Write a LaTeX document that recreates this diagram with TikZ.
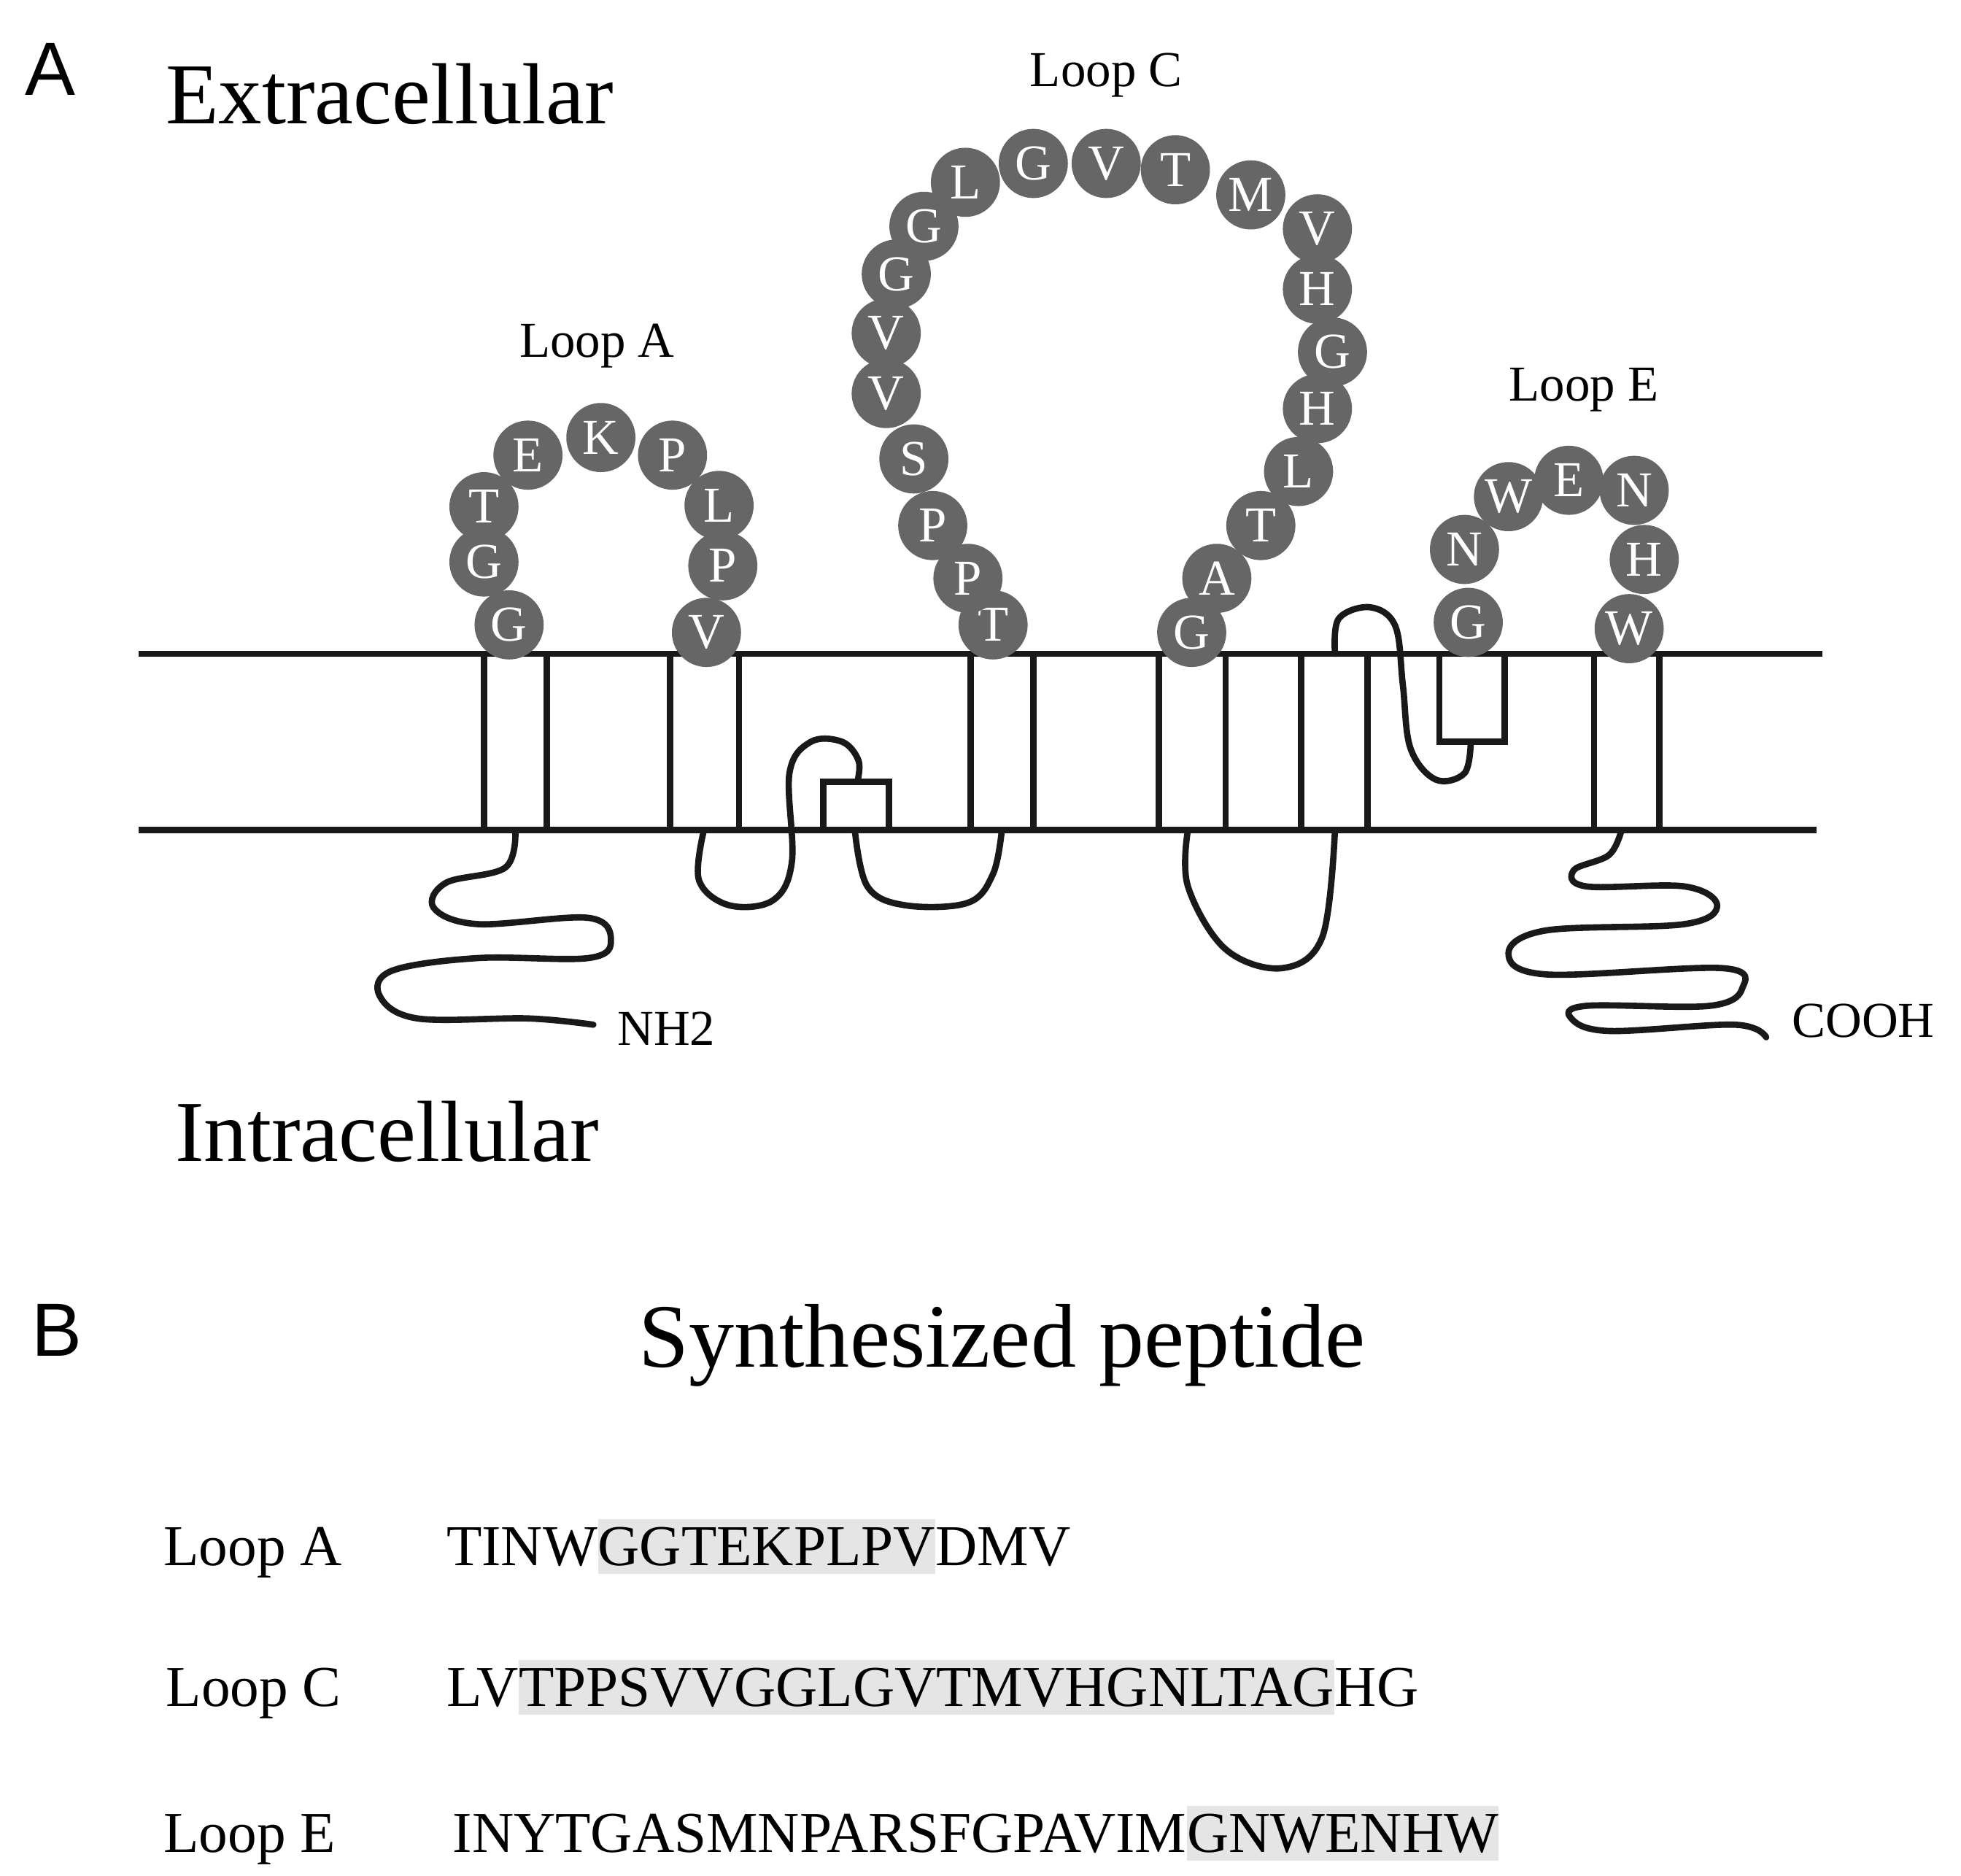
\documentclass[tikz,border=0pt]{standalone}
\usepackage{fontspec}
\setmainfont{Liberation Serif}
\newfontfamily\sansf{Liberation Sans}
\begin{document}
\begin{tikzpicture}[x=1pt,y=-1pt,
  mem/.style={line width=5pt,color=black!90},
  chain/.style={line width=5pt,color=black!90,line cap=round,line join=round},
  res/.style={circle,fill=black!60,minimum size=55pt,inner sep=0pt,text=white,font=\fontsize{40}{40}\selectfont},
  lbl/.style={font=\fontsize{40}{40}\selectfont},
  big/.style={font=\fontsize{69}{69}\selectfont},
  seq/.style={font=\fontsize{46}{46}\selectfont,inner xsep=0pt,inner ysep=6pt,anchor=base west},
  hl/.style={seq,fill=black!10}]
\useasboundingbox (0,0) rectangle (1560,1492);
% membrane
\draw[mem] (110,520) -- (1450,520);
\draw[mem] (110,660) -- (1445,660);
\foreach \x in {385,435,533,588,772,822,922,975,1035,1088,1268,1320}
  \draw[mem] (\x,520) -- (\x,660);
\draw[mem] (655,660) -- (655,622) -- (707,622) -- (707,660);
\draw[mem] (1145,520) -- (1145,590) -- (1197,590) -- (1197,520);
% chains
\draw[chain] plot[smooth,tension=0.6] coordinates {(410,660) (402,690) (355,702) (345,722) (380,735) (468,730) (486,748) (468,762) (380,762) (312,772) (302,792) (332,810) (420,810) (472,815)};
\draw[chain] plot[smooth,tension=0.6] coordinates {(560,660) (556,700) (580,720) (615,716) (630,685) (628,615) (645,590) (670,590) (683,605) (682,622)};
\draw[chain] plot[smooth,tension=0.6] coordinates {(680,660) (690,705) (720,720) (770,718) (790,695) (797,660)};
\draw[chain] plot[smooth,tension=0.6] coordinates {(945,660) (945,705) (975,755) (1020,770) (1052,745) (1062,660)};
\draw[chain] plot[smooth,tension=0.6] coordinates {(1062,520) (1065,492) (1090,483) (1110,498) (1116,545) (1122,595) (1142,620) (1165,615) (1170,590)};
\draw[chain] plot[smooth,tension=0.6] coordinates {(1290,660) (1280,680) (1252,692) (1262,705) (1340,705) (1366,720) (1340,735) (1230,740) (1200,758) (1230,775) (1370,770) (1386,786) (1360,800) (1262,800) (1250,810) (1280,820) (1380,815) (1405,825)};
% residues
\foreach \l/\x/\y [count=\i] in {G/405/497,G/385/447,T/385/403,E/420/362,K/478/348,P/535/362,L/572/402,P/575/450,V/562/503}
  \node[res] (a\i) at (\x,\y) {\l};
\foreach \l/\x/\y [count=\i] in {T/790/497,P/770/460,P/742/418,S/727/365,V/705/313,V/705/265,G/713/218,G/735/180,L/768/145,G/822/130,V/880/130,T/935/135,M/995/155,V/1048/182,H/1048/230,G/1060/280,H/1048/325,L/1033/375,T/1003/418,A/968/460,G/948/503}
  \node[res] (c\i) at (\x,\y) {\l};
\foreach \l/\x/\y [count=\i] in {G/1168/495,N/1165/437,W/1200/395,E/1248/382,N/1300/390,H/1308/445,W/1296/500}
  \node[res] (e\i) at (\x,\y) {\l};
% labels
\node[font=\sansf\fontsize{60}{60}\selectfont] (A) at (40,55) {A};
\node[font=\sansf\fontsize{60}{60}\selectfont] (B) at (45,1058) {B};
\node[big] (ext) at (310,75) {Extracellular};
\node[big] (int) at (308,900) {Intracellular};
\node[lbl] (la) at (475,275) {Loop A};
\node[lbl] (lc) at (880,60) {Loop C};
\node[lbl] (le) at (1260,310) {Loop E};
\node[lbl] (nh) at (530,818) {NH2};
\node[lbl,anchor=west] (co) at (1422,812) {COOH};
\node[font=\fontsize{72}{72}\selectfont] (syn) at (797,1070) {Synthesized peptide};
% sequences
\node[seq] (ra) at (130,1245) {Loop A};
\node[seq] (a1s) at (355,1245) {TINW};
\node[hl] (a2s) at (a1s.base east) {GGTEKPLPV};
\node[seq] (a3s) at (a2s.base east) {DMV};
\node[seq] (rc) at (132,1357) {Loop C};
\node[seq] (c1s) at (355,1357) {LV};
\node[hl] (c2s) at (c1s.base east) {TPPSVVGGLGVTMVHGNLTAG};
\node[seq] (c3s) at (c2s.base east) {HG};
\node[seq] (re) at (130,1473) {Loop E};
\node[seq] (e1s) at (360,1473) {INYTGASMNPARSFGPAVIM};
\node[hl] (e2s) at (e1s.base east) {GNWENHW};
\end{tikzpicture}
\end{document}
